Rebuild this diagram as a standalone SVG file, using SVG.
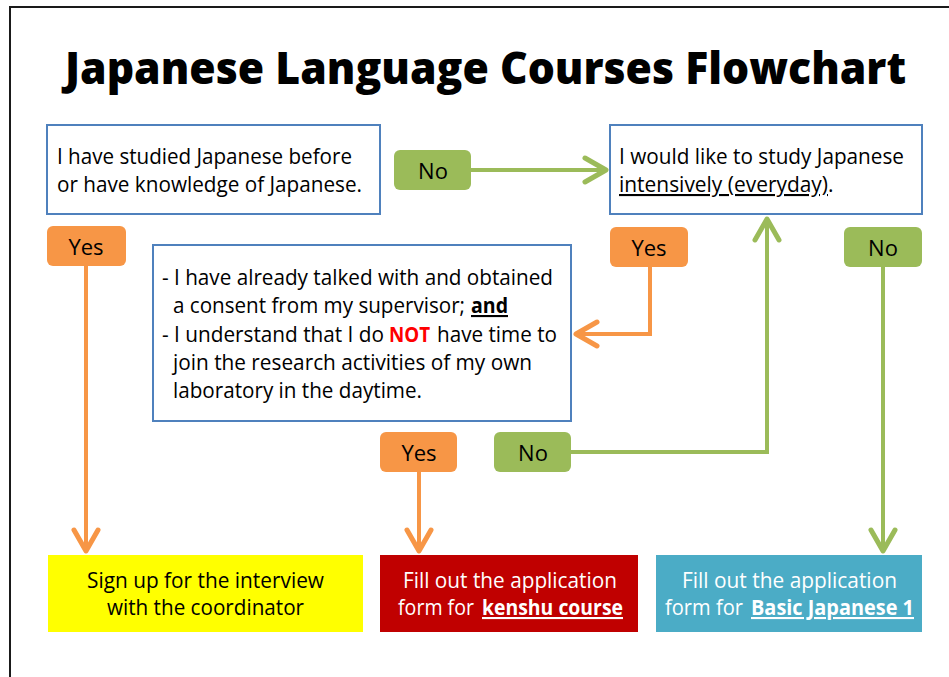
<svg xmlns="http://www.w3.org/2000/svg" width="949" height="677" viewBox="0 0 949 677">
<style>
.t{font-family:"Open Sans","Noto Sans","Liberation Sans",sans-serif;font-size:21px;fill:#000}
.lbl{font-family:"Open Sans","Noto Sans","Liberation Sans",sans-serif;font-size:22px;fill:#000;text-anchor:middle}
.box{fill:#fff;stroke:#4F81BD;stroke-width:2}
.or{fill:#F79646}
.gr{fill:#9BBB59}
.lo{fill:none;stroke:#F79646;stroke-width:4}
.lg{fill:none;stroke:#9BBB59;stroke-width:4}
.w{fill:#fff}
.b{font-weight:bold}
.u{text-decoration:underline}
</style>
<defs>
<marker id="ao" markerUnits="userSpaceOnUse" markerWidth="40" markerHeight="40" viewBox="-30 -20 40 40" refX="0" refY="0" orient="auto">
<path d="M-21,-12 L0,0 L-21,12" fill="none" stroke="#F79646" stroke-width="5" stroke-linecap="round" stroke-linejoin="round"/>
</marker>
<marker id="ag" markerUnits="userSpaceOnUse" markerWidth="40" markerHeight="40" viewBox="-30 -20 40 40" refX="0" refY="0" orient="auto">
<path d="M-21,-12 L0,0 L-21,12" fill="none" stroke="#9BBB59" stroke-width="5" stroke-linecap="round" stroke-linejoin="round"/>
</marker>
</defs>
<rect width="949" height="677" fill="#fff"/>
<path d="M10,677 L10,7 L949,7" fill="none" stroke="#1a1a1a" stroke-width="2"/>
<text transform="translate(65,84) scale(0.89,1)" x="0" y="0" textLength="945" lengthAdjust="spacingAndGlyphs" style="font-family:'Open Sans','Noto Sans',sans-serif;font-size:45px;font-weight:800;fill:#000">Japanese Language Courses Flowchart</text>

<g id="connectors">
<path class="lg" d="M471,170 L606,170" marker-end="url(#ag)"/>
<path class="lo" d="M86,266 L86,551" marker-end="url(#ao)"/>
<path class="lo" d="M650,266 L650,334 L576,334" marker-end="url(#ao)"/>
<path class="lo" d="M419,472 L419,551" marker-end="url(#ao)"/>
<path class="lg" d="M571,452 L767,452 L767,219" marker-end="url(#ag)"/>
<path class="lg" d="M883,267 L883,551" marker-end="url(#ag)"/>
</g>

<g id="q1">
<rect class="box" x="47" y="125" width="333" height="89"/>
<text class="t" x="57" y="164" textLength="295" lengthAdjust="spacingAndGlyphs">I have studied Japanese before</text>
<text class="t" x="57" y="192" textLength="305" lengthAdjust="spacingAndGlyphs">or have knowledge of Japanese.</text>
</g>
<g id="q2">
<rect class="box" x="610" y="125" width="312" height="89"/>
<text class="t" x="619" y="164" textLength="285" lengthAdjust="spacingAndGlyphs">I would like to study Japanese</text>
<text class="t u" x="619" y="192" textLength="209" lengthAdjust="spacingAndGlyphs">intensively (everyday)</text>
<text class="t" x="828" y="192">.</text>
</g>
<g id="q3">
<rect class="box" x="153" y="245" width="418" height="176"/>
<text class="t" x="162" y="285" textLength="391" lengthAdjust="spacingAndGlyphs">- I have already talked with and obtained</text>
<text class="t" x="173" y="313" textLength="292" lengthAdjust="spacingAndGlyphs">a consent from my supervisor;</text>
<text class="t b u" x="471" y="313" textLength="37" lengthAdjust="spacingAndGlyphs">and</text>
<text class="t" x="162" y="342" textLength="222" lengthAdjust="spacingAndGlyphs">- I understand that I do</text>
<text class="t b" x="389" y="342" textLength="41" lengthAdjust="spacingAndGlyphs" fill="#FF0000" style="fill:#FF0000">NOT</text>
<text class="t" x="437" y="342" textLength="120" lengthAdjust="spacingAndGlyphs">have time to</text>
<text class="t" x="173" y="370" textLength="359" lengthAdjust="spacingAndGlyphs">join the research activities of my own</text>
<text class="t" x="173" y="398" textLength="249" lengthAdjust="spacingAndGlyphs">laboratory in the daytime.</text>
</g>

<g id="no1"><rect class="gr" x="394" y="150" width="77" height="40" rx="6"/><text class="lbl" x="433" y="179">No</text></g>
<g id="yes1"><rect class="or" x="47" y="226" width="79" height="40" rx="6"/><text class="lbl" x="86" y="255">Yes</text></g>
<g id="yes2"><rect class="or" x="610" y="227" width="78" height="40" rx="6"/><text class="lbl" x="649" y="256">Yes</text></g>
<g id="no2"><rect class="gr" x="844" y="227" width="78" height="40" rx="6"/><text class="lbl" x="883" y="256">No</text></g>
<g id="yes3"><rect class="or" x="380" y="432" width="77" height="40" rx="6"/><text class="lbl" x="419" y="461">Yes</text></g>
<g id="no3"><rect class="gr" x="494" y="432" width="77" height="40" rx="6"/><text class="lbl" x="533" y="461">No</text></g>

<g id="r1">
<rect x="48" y="555" width="315" height="77" fill="#FFFF00"/>
<text class="t" x="87" y="588" textLength="237" lengthAdjust="spacingAndGlyphs">Sign up for the interview</text>
<text class="t" x="107" y="615" textLength="197" lengthAdjust="spacingAndGlyphs">with the coordinator</text>
</g>
<g id="r2">
<rect x="380" y="555" width="258" height="77" fill="#C00000"/>
<text class="t w" x="403" y="588" textLength="214" lengthAdjust="spacingAndGlyphs">Fill out the application</text>
<text class="t w" x="398" y="615" textLength="76" lengthAdjust="spacingAndGlyphs">form for</text>
<text class="t w b u" x="482" y="615" textLength="141" lengthAdjust="spacingAndGlyphs">kenshu course</text>
</g>
<g id="r3">
<rect x="656" y="555" width="266" height="77" fill="#4BACC6"/>
<text class="t w" x="682" y="588" textLength="215" lengthAdjust="spacingAndGlyphs">Fill out the application</text>
<text class="t w" x="665" y="615" textLength="78" lengthAdjust="spacingAndGlyphs">form for</text>
<text class="t w b u" x="751" y="615" textLength="163" lengthAdjust="spacingAndGlyphs">Basic Japanese 1</text>
</g>
</svg>
